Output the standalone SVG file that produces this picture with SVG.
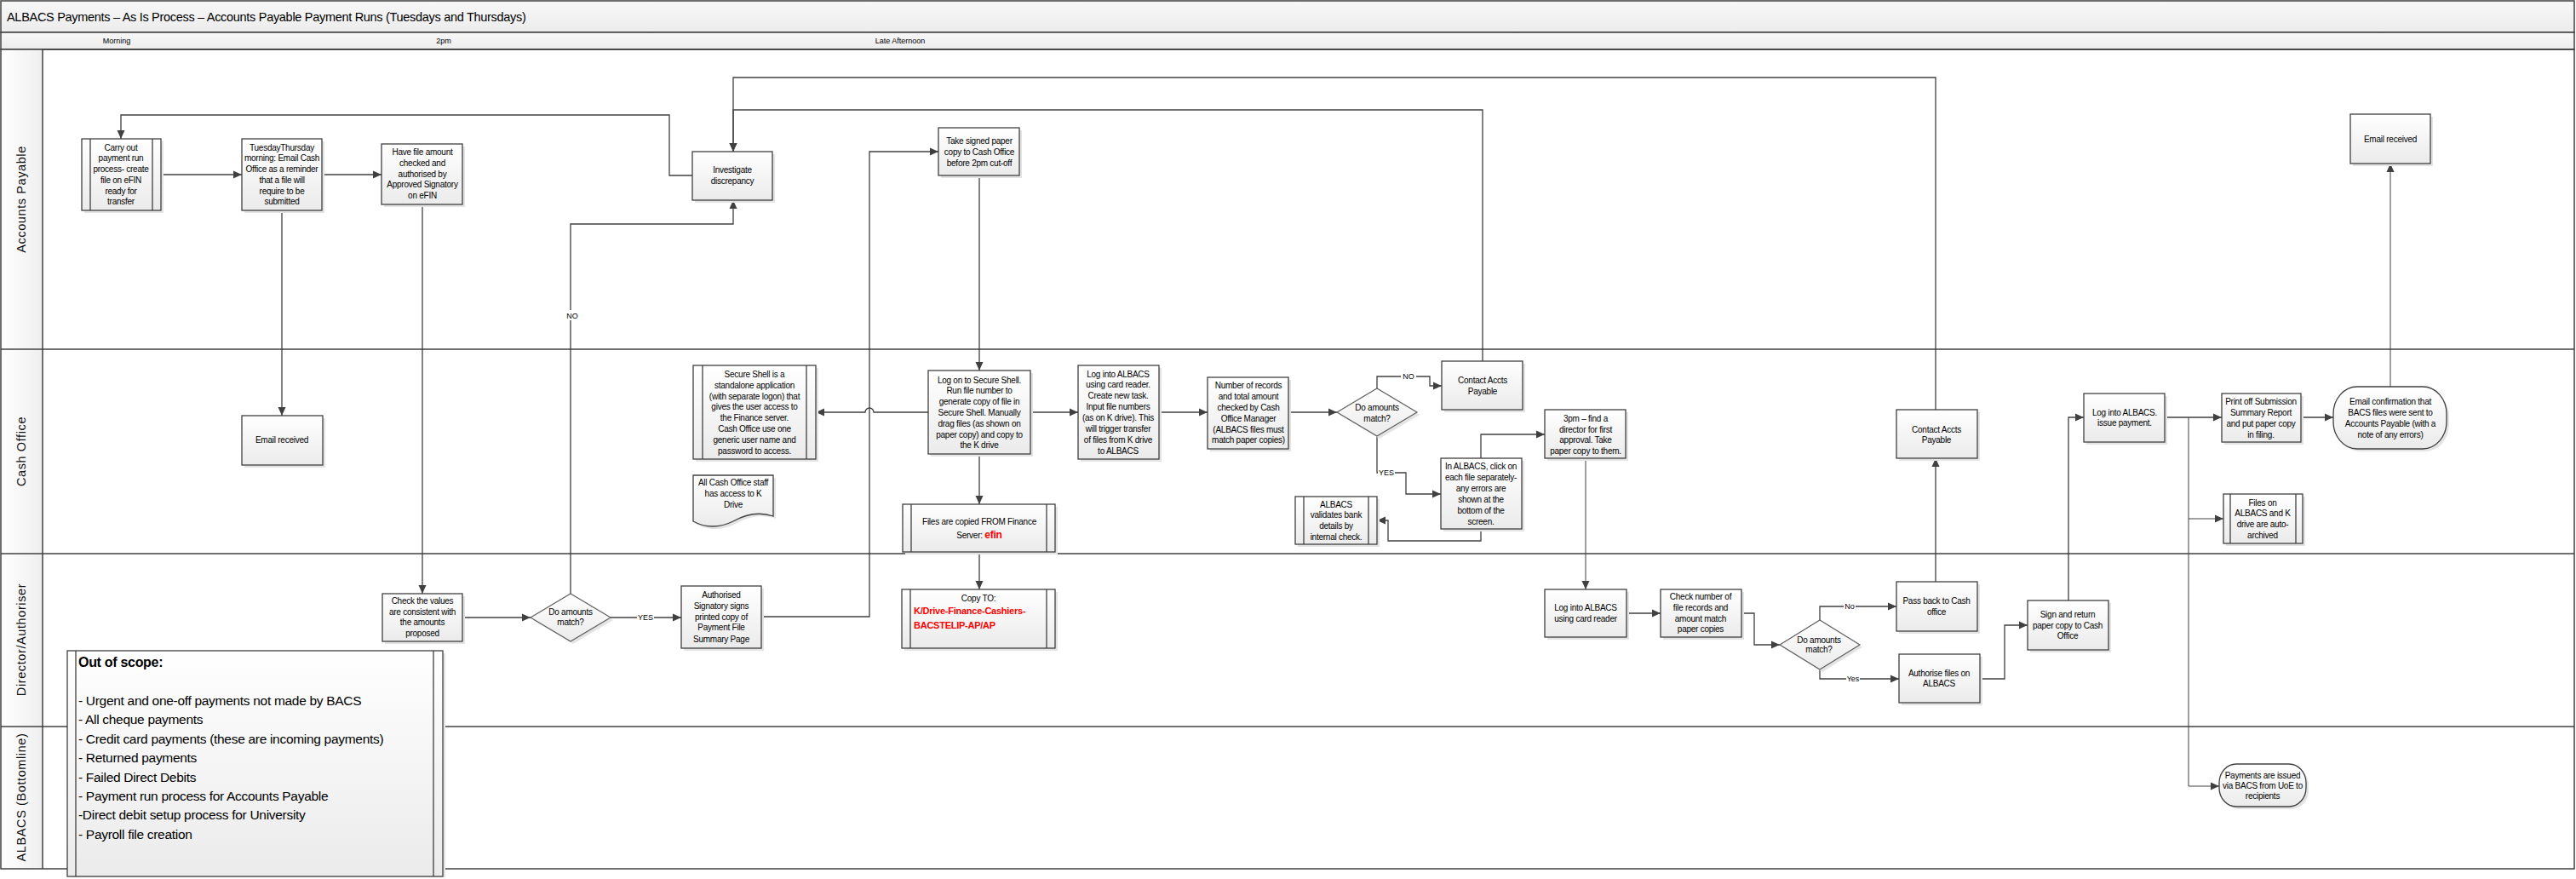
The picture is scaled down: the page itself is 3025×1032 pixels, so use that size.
<svg xmlns="http://www.w3.org/2000/svg" width="3025" height="1032" viewBox="0 0 3025 1032">
<defs>
<linearGradient id="gn" x1="0" y1="0" x2="0" y2="1"><stop offset="0" stop-color="#ffffff"/><stop offset="1" stop-color="#ebebeb"/></linearGradient>
<linearGradient id="gh" x1="0" y1="0" x2="1" y2="0"><stop offset="0" stop-color="#ffffff"/><stop offset="1" stop-color="#efefef"/></linearGradient>
<linearGradient id="gt" x1="0" y1="0" x2="0" y2="1"><stop offset="0" stop-color="#f8f8f8"/><stop offset="1" stop-color="#ececec"/></linearGradient>
<marker id="a" markerUnits="userSpaceOnUse" markerWidth="10" markerHeight="10" refX="10" refY="5" orient="auto"><path d="M0,0.5 L10,5 L0,9.5 z" fill="#404040"/></marker>
</defs>
<style>
.frame{fill:none;stroke:#404040;stroke-width:1.5}
.ln{stroke:#404040;stroke-width:1.5;fill:none}
.b{fill:url(#gn);stroke:#404040;stroke-width:1.3}
.sh{fill:#e4e4e4;stroke:none}
.il{stroke:#404040;stroke-width:1.3}
.dm{fill:url(#gn);stroke:#606060;stroke-width:1.2}
.t{font-family:'Liberation Sans',Arial,sans-serif;font-size:10px;letter-spacing:-0.25px;fill:#000;text-anchor:middle}
.lane{font-family:'Liberation Sans',Arial,sans-serif;font-size:14.5px;letter-spacing:0.6px;fill:#111;text-anchor:middle}
.c{fill:none;stroke:#404040;stroke-width:1.3;marker-end:url(#a)}
.lb{font-family:'Liberation Sans',Arial,sans-serif;font-size:9px;fill:#000;text-anchor:middle}
.red{fill:#ff0000;font-weight:bold}
.oos{font-family:'Liberation Sans',Arial,sans-serif;font-size:15.5px;letter-spacing:-0.3px;fill:#000}
</style>
<rect x="0" y="0" width="3025" height="1032" fill="#ffffff"/>
<g id="header">
<rect x="1" y="1" width="3022" height="37" fill="url(#gt)" stroke="#404040" stroke-width="1.5"/>
<text x="8" y="25" font-family="'Liberation Sans',Arial,sans-serif" font-size="14.5" letter-spacing="-0.3">ALBACS Payments – As Is Process – Accounts Payable Payment Runs (Tuesdays and Thursdays)</text>
<rect x="1" y="38" width="3022" height="20" fill="url(#gt)" stroke="#404040" stroke-width="1.5"/>
<text x="137" y="51" font-family="'Liberation Sans',Arial,sans-serif" font-size="9" text-anchor="middle">Morning</text>
<text x="521" y="51" font-family="'Liberation Sans',Arial,sans-serif" font-size="9" text-anchor="middle">2pm</text>
<text x="1057" y="51" font-family="'Liberation Sans',Arial,sans-serif" font-size="9" text-anchor="middle">Late Afternoon</text>
</g>
<g id="lanes">
<rect x="1" y="58" width="49" height="962" fill="url(#gh)"/>
<rect x="1" y="58" width="3022" height="962" class="frame"/>
<line x1="50" y1="58" x2="50" y2="1020" class="ln"/>
<line x1="1" y1="410" x2="3023" y2="410" class="ln"/>
<line x1="1" y1="650" x2="3023" y2="650" class="ln"/>
<line x1="1" y1="853" x2="3023" y2="853" class="ln"/>
<text class="lane" transform="translate(30,234) rotate(-90)">Accounts Payable</text>
<text class="lane" transform="translate(30,530) rotate(-90)">Cash Office</text>
<text class="lane" transform="translate(30,751) rotate(-90)">Director/Authoriser</text>
<text class="lane" transform="translate(30,936) rotate(-90)">ALBACS (Bottomline)</text>
</g>
<g id="connectors">
<path class="c" d="M813,206 H786 V135 H142 V163"/>
<path class="c" d="M189,205 H284"/>
<path class="c" d="M378,205 H448"/>
<path class="c" d="M331,247 V488"/>
<path class="c" d="M496,240 V697"/>
<path class="c" d="M543,725 H623"/>
<path class="c" d="M717,725 H800"/>
<path class="c" d="M670,697 V263 H861 V235"/>
<path class="c" d="M894,724 H1021 V178 H1102"/>
<path class="c" d="M1150,206 V435"/>
<path class="c" d="M1090,484 H1026 A5,5 0 0 0 1016,484 H958"/>
<path class="c" d="M1150,533 V592"/>
<path class="c" d="M1150,648 V692"/>
<path class="c" d="M1210,484 H1266"/>
<path class="c" d="M1361,484 H1418"/>
<path class="c" d="M1513,484 H1570"/>
<path class="c" d="M1617,456 V442 H1679 V453 H1693"/>
<path class="c" d="M1741,424 V129 H861 V178"/>
<path class="c" d="M2273,481 V91 H861 V178"/>
<path class="c" d="M1617,512 V555 H1651 V580 H1692"/>
<path class="c" d="M1739,621 V635 H1630 V611 H1617"/>
<path class="c" d="M1739,538 V510 H1814"/>
<path class="c" d="M1862,538 V692" style="stroke-width:1"/>
<path class="c" d="M1910,720 H1950"/>
<path class="c" d="M2045,720 H2060 V757 H2090"/>
<path class="c" d="M2137,728 V712 H2227"/>
<path class="c" d="M2137,786 V797 H2230"/>
<path class="c" d="M2273,683 V538"/>
<path class="c" d="M2325,797 H2354 V734 H2381"/>
<path class="c" d="M2429,705 V490 H2447"/>
<path class="c" d="M2542,490 H2609"/>
<path class="c" d="M2570,490 V609 H2611" style="stroke-width:1"/>
<path class="c" d="M2570,609 V923 H2606" style="stroke-width:1"/>
<path class="c" d="M2702,490 H2740"/>
<path class="c" d="M2807,454 V192" style="stroke-width:1"/>
<rect x="664" y="364" width="16" height="12" fill="#fff"/>
<text class="lb" x="672" y="374">NO</text>
<rect x="748" y="719" width="20" height="11" fill="#fff"/>
<text class="lb" x="758" y="728">YES</text>
<rect x="1645" y="436" width="18" height="11" fill="#fff"/>
<text class="lb" x="1654" y="445">NO</text>
<rect x="1618" y="549" width="20" height="11" fill="#fff"/>
<text class="lb" x="1628" y="558">YES</text>
<rect x="2165" y="706" width="14" height="11" fill="#fff"/>
<text class="lb" x="2172" y="715">No</text>
<rect x="2168" y="791" width="16" height="11" fill="#fff"/>
<text class="lb" x="2176" y="800">Yes</text>
</g>
<g id="n_carry"><rect class="sh" x="99" y="166" width="93" height="84"/><rect class="b" x="96" y="163" width="93" height="84"/><line class="il" x1="106" y1="163" x2="106" y2="247"/><line class="il" x1="179" y1="163" x2="179" y2="247"/>
<text class="t"><tspan x="142" y="176.5">Carry out</tspan><tspan x="142" y="189.3">payment run</tspan><tspan x="142" y="202">process- create</tspan><tspan x="142" y="214.8">file on eFIN</tspan><tspan x="142" y="227.6">ready for</tspan><tspan x="142" y="240.4">transfer</tspan></text></g>
<g id="n_tue"><rect class="sh" x="287" y="166" width="94" height="84"/><rect class="b" x="284" y="163" width="94" height="84"/>
<text class="t"><tspan x="331" y="176.5">TuesdayThursday</tspan><tspan x="331" y="189.3">morning: Email Cash</tspan><tspan x="331" y="202">Office as a reminder</tspan><tspan x="331" y="214.8">that a file will</tspan><tspan x="331" y="227.6">require to be</tspan><tspan x="331" y="240.4">submitted</tspan></text></g>
<g id="n_have"><rect class="sh" x="451" y="172" width="95" height="71"/><rect class="b" x="448" y="169" width="95" height="71"/>
<text class="t"><tspan x="496" y="182">Have file amount</tspan><tspan x="496" y="195">checked and</tspan><tspan x="496" y="208">authorised by</tspan><tspan x="496" y="220">Approved Signatory</tspan><tspan x="496" y="233">on eFIN</tspan></text></g>
<g id="n_inv"><rect class="sh" x="816" y="181" width="94" height="57"/><rect class="b" x="813" y="178" width="94" height="57"/>
<text class="t"><tspan x="860" y="203">Investigate</tspan><tspan x="860" y="216">discrepancy</tspan></text></g>
<g id="n_take"><rect class="sh" x="1105" y="153" width="95" height="56"/><rect class="b" x="1102" y="150" width="95" height="56"/>
<text class="t"><tspan x="1150" y="168.5">Take signed paper</tspan><tspan x="1150" y="181.5">copy to Cash Office</tspan><tspan x="1150" y="194.5">before 2pm cut-off</tspan></text></g>
<g id="n_emailap"><rect class="sh" x="2763" y="137" width="94" height="58"/><rect class="b" x="2760" y="134" width="94" height="58"/>
<text class="t"><tspan x="2807" y="166.5">Email received</tspan></text></g>
<g id="n_emailco"><rect class="sh" x="287" y="491" width="95" height="58"/><rect class="b" x="284" y="488" width="95" height="58"/>
<text class="t"><tspan x="331" y="520">Email received</tspan></text></g>
<g id="n_ss"><rect class="sh" x="817" y="432" width="144" height="110"/><rect class="b" x="814" y="429" width="144" height="110"/><line class="il" x1="825" y1="429" x2="825" y2="539"/><line class="il" x1="947" y1="429" x2="947" y2="539"/>
<text class="t"><tspan x="886" y="442.5">Secure Shell is a</tspan><tspan x="886" y="455.5">standalone application</tspan><tspan x="886" y="468.5">(with separate logon) that</tspan><tspan x="886" y="481.2">gives the user access to</tspan><tspan x="886" y="494.2">the Finance server.</tspan><tspan x="886" y="506.5">Cash Office use one</tspan><tspan x="886" y="519.5">generic user name and</tspan><tspan x="886" y="532.5">password to access.</tspan></text></g>
<g id="n_doc"><path d="M817,561 H911 V609 C893,603 878,607 864,615 C848,623 831,623 817,615 Z" class="sh"/><path d="M814,558 H908 V606 C890,600 875,604 861,612 C845,620 828,620 814,612 Z" class="b"/>
<text class="t"><tspan x="861" y="569.5">All Cash Office staff</tspan><tspan x="861" y="582.5">has access to K</tspan><tspan x="861" y="595.5">Drive</tspan></text></g>
<g id="n_logon"><rect class="sh" x="1093" y="438" width="120" height="98"/><rect class="b" x="1090" y="435" width="120" height="98"/>
<text class="t"><tspan x="1150" y="449.5">Log on to Secure Shell.</tspan><tspan x="1150" y="462.2">Run file number to</tspan><tspan x="1150" y="474.8">generate copy of file in</tspan><tspan x="1150" y="487.8">Secure Shell. Manually</tspan><tspan x="1150" y="500.8">drag files (as shown on</tspan><tspan x="1150" y="513.5">paper copy) and copy  to</tspan><tspan x="1150" y="526.2">the K drive</tspan></text></g>
<g id="n_files"><rect class="sh" x="1063" y="595" width="179" height="56"/><rect class="b" x="1060" y="592" width="179" height="56"/><line class="il" x1="1070" y1="592" x2="1070" y2="648"/><line class="il" x1="1229" y1="592" x2="1229" y2="648"/>
<text class="t"><tspan x="1150" y="615.5">Files are copied FROM Finance</tspan><tspan x="1150" y="632">Server: <tspan class="red" font-size="12">efin</tspan></tspan></text></g>
<g id="n_logalb"><rect class="sh" x="1269" y="432" width="95" height="110"/><rect class="b" x="1266" y="429" width="95" height="110"/>
<text class="t"><tspan x="1313" y="442.5">Log into ALBACS</tspan><tspan x="1313" y="455.2">using card reader.</tspan><tspan x="1313" y="468.2">Create new task.</tspan><tspan x="1313" y="481.2">Input file numbers</tspan><tspan x="1313" y="493.8">(as on K drive). This</tspan><tspan x="1313" y="506.5">will trigger transfer</tspan><tspan x="1313" y="519.5">of files from K drive</tspan><tspan x="1313" y="532.5">to ALBACS</tspan></text></g>
<g id="n_num"><rect class="sh" x="1421" y="446" width="95" height="84"/><rect class="b" x="1418" y="443" width="95" height="84"/>
<text class="t"><tspan x="1466" y="455.8">Number of records</tspan><tspan x="1466" y="468.8">and total amount</tspan><tspan x="1466" y="481.8">checked by Cash</tspan><tspan x="1466" y="494.5">Office Manager</tspan><tspan x="1466" y="507.5">(ALBACS files must</tspan><tspan x="1466" y="520.2">match paper copies)</tspan></text></g>
<g id="d1"><polygon points="1573,487 1620,459 1667,487 1620,515" class="sh"/><polygon points="1570,484 1617,456 1664,484 1617,512" class="dm"/>
<text class="t"><tspan x="1617" y="481.8">Do amounts</tspan><tspan x="1617" y="494.5">match?</tspan></text></g>
<g id="n_contact1"><rect class="sh" x="1696" y="427" width="95" height="57"/><rect class="b" x="1693" y="424" width="95" height="57"/>
<text class="t"><tspan x="1741" y="449.5">Contact Accts</tspan><tspan x="1741" y="462.8">Payable</tspan></text></g>
<g id="n_inalb"><rect class="sh" x="1695" y="541" width="95" height="83"/><rect class="b" x="1692" y="538" width="95" height="83"/>
<text class="t"><tspan x="1739" y="551.2">In ALBACS, click on</tspan><tspan x="1739" y="564.2">each file separately-</tspan><tspan x="1739" y="577.2">any errors are</tspan><tspan x="1739" y="589.8">shown at the</tspan><tspan x="1739" y="602.8">bottom of the</tspan><tspan x="1739" y="615.5">screen.</tspan></text></g>
<g id="n_valid"><rect class="sh" x="1524" y="586" width="96" height="56"/><rect class="b" x="1521" y="583" width="96" height="56"/><line class="il" x1="1531" y1="583" x2="1531" y2="639"/><line class="il" x1="1607" y1="583" x2="1607" y2="639"/>
<text class="t"><tspan x="1569" y="595.5">ALBACS</tspan><tspan x="1569" y="608.2">validates bank</tspan><tspan x="1569" y="620.8">details by</tspan><tspan x="1569" y="633.5">internal check.</tspan></text></g>
<g id="n_3pm"><rect class="sh" x="1817" y="484" width="95" height="57"/><rect class="b" x="1814" y="481" width="95" height="57"/>
<text class="t"><tspan x="1862" y="494.5">3pm – find a</tspan><tspan x="1862" y="507.5">director for first</tspan><tspan x="1862" y="520.2">approval. Take</tspan><tspan x="1862" y="532.8">paper copy to them.</tspan></text></g>
<g id="n_contact2"><rect class="sh" x="2230" y="484" width="95" height="57"/><rect class="b" x="2227" y="481" width="95" height="57"/>
<text class="t"><tspan x="2274" y="507.5">Contact Accts</tspan><tspan x="2274" y="520.2">Payable</tspan></text></g>
<g id="n_logiss"><rect class="sh" x="2450" y="465" width="95" height="57"/><rect class="b" x="2447" y="462" width="95" height="57"/>
<text class="t"><tspan x="2495" y="487.8">Log into ALBACS.</tspan><tspan x="2495" y="500.2">issue payment.</tspan></text></g>
<g id="n_print"><rect class="sh" x="2612" y="465" width="93" height="57"/><rect class="b" x="2609" y="462" width="93" height="57"/>
<text class="t"><tspan x="2655" y="474.5">Print off Submission</tspan><tspan x="2655" y="487.8">Summary Report</tspan><tspan x="2655" y="500.8">and put paper copy</tspan><tspan x="2655" y="514.2">in filing.</tspan></text></g>
<g id="n_emailconf"><rect class="sh" x="2743" y="457" width="133" height="73" rx="28" ry="32"/><rect class="b" x="2740" y="454" width="133" height="73" rx="28" ry="32"/>
<text class="t"><tspan x="2807" y="474.5">Email confirmation that</tspan><tspan x="2807" y="487.8">BACS files were sent to</tspan><tspan x="2807" y="500.8">Accounts Payable (with a</tspan><tspan x="2807" y="514.2">note of any errors)</tspan></text></g>
<g id="n_archive"><rect class="sh" x="2614" y="583" width="93" height="58"/><rect class="b" x="2611" y="580" width="93" height="58"/><line class="il" x1="2619" y1="580" x2="2619" y2="638"/><line class="il" x1="2696" y1="580" x2="2696" y2="638"/>
<text class="t"><tspan x="2657" y="593.5">Files on</tspan><tspan x="2657" y="606.2">ALBACS and K</tspan><tspan x="2657" y="619.2">drive are auto-</tspan><tspan x="2657" y="632.2">archived</tspan></text></g>
<g id="n_check"><rect class="sh" x="452" y="700" width="94" height="56"/><rect class="b" x="449" y="697" width="94" height="56"/>
<text class="t"><tspan x="496" y="708.5">Check the values</tspan><tspan x="496" y="721.5">are consistent with</tspan><tspan x="496" y="734.2">the amounts</tspan><tspan x="496" y="746.5">proposed</tspan></text></g>
<g id="d2"><polygon points="626,728 673,700 720,728 673,756" class="sh"/><polygon points="623,725 670,697 717,725 670,753" class="dm"/>
<text class="t"><tspan x="670" y="721.5">Do amounts</tspan><tspan x="670" y="734.2">match?</tspan></text></g>
<g id="n_auth"><rect class="sh" x="803" y="691" width="94" height="73"/><rect class="b" x="800" y="688" width="94" height="73"/>
<text class="t"><tspan x="847" y="702.2">Authorised</tspan><tspan x="847" y="714.5">Signatory signs</tspan><tspan x="847" y="727.5">printed copy of</tspan><tspan x="847" y="740.2">Payment File</tspan><tspan x="847" y="753.5">Summary Page</tspan></text></g>
<g id="n_copy"><rect class="sh" x="1062" y="695" width="180" height="69"/><rect class="b" x="1059" y="692" width="180" height="69"/><line class="il" x1="1069" y1="692" x2="1069" y2="761"/><line class="il" x1="1229" y1="692" x2="1229" y2="761"/>
<text class="t"><tspan x="1149" y="706">Copy TO:</tspan></text>
<text class="t red" style="text-anchor:start;font-size:11px"><tspan x="1073" y="721">K/Drive-Finance-Cashiers-</tspan><tspan x="1073" y="738">BACSTELIP-AP/AP</tspan></text></g>
<g id="n_logcard"><rect class="sh" x="1817" y="695" width="96" height="56"/><rect class="b" x="1814" y="692" width="96" height="56"/>
<text class="t"><tspan x="1862" y="717.2">Log into ALBACS</tspan><tspan x="1862" y="729.5">using card reader</tspan></text></g>
<g id="n_checknum"><rect class="sh" x="1953" y="695" width="95" height="56"/><rect class="b" x="1950" y="692" width="95" height="56"/>
<text class="t"><tspan x="1997" y="704.2">Check number of</tspan><tspan x="1997" y="717.2">file records and</tspan><tspan x="1997" y="729.5">amount match</tspan><tspan x="1997" y="742.2">paper copies</tspan></text></g>
<g id="d3"><polygon points="2093,760 2140,731 2187,760 2140,789" class="sh"/><polygon points="2090,757 2137,728 2184,757 2137,786" class="dm"/>
<text class="t"><tspan x="2136" y="754.5">Do amounts</tspan><tspan x="2136" y="766.2">match?</tspan></text></g>
<g id="n_pass"><rect class="sh" x="2230" y="686" width="95" height="58"/><rect class="b" x="2227" y="683" width="95" height="58"/>
<text class="t"><tspan x="2274" y="709.2">Pass back to Cash</tspan><tspan x="2274" y="721.5">office</tspan></text></g>
<g id="n_authfiles"><rect class="sh" x="2233" y="771" width="95" height="57"/><rect class="b" x="2230" y="768" width="95" height="57"/>
<text class="t"><tspan x="2277" y="793.5">Authorise files on</tspan><tspan x="2277" y="805.8">ALBACS</tspan></text></g>
<g id="n_sign"><rect class="sh" x="2384" y="708" width="95" height="58"/><rect class="b" x="2381" y="705" width="95" height="58"/>
<text class="t"><tspan x="2428" y="724.5">Sign and return</tspan><tspan x="2428" y="737.5">paper copy to Cash</tspan><tspan x="2428" y="749.5">Office</tspan></text></g>
<g id="n_payments"><rect class="sh" x="2609" y="900" width="102" height="50" rx="20" ry="22"/><rect class="b" x="2606" y="897" width="102" height="50" rx="20" ry="22"/>
<text class="t"><tspan x="2657" y="913.5">Payments are issued</tspan><tspan x="2657" y="926.2">via BACS from UoE to</tspan><tspan x="2657" y="938.2">recipients</tspan></text></g>
<g id="n_oos"><rect class="sh" x="82" y="767" width="441" height="263"/><rect class="b" x="79" y="764" width="441" height="265"/><line class="il" x1="89" y1="764" x2="89" y2="1029"/><line class="il" x1="509" y1="764" x2="509" y2="1029"/>
<text class="oos"><tspan x="92" y="783" font-weight="bold" font-size="16">Out of scope:</tspan><tspan x="92" y="828">- Urgent and one-off payments not made by BACS</tspan><tspan x="92" y="850">- All cheque payments</tspan><tspan x="92" y="873">- Credit card payments (these are incoming payments)</tspan><tspan x="92" y="895">- Returned payments</tspan><tspan x="92" y="918">- Failed Direct Debits</tspan><tspan x="92" y="940">- Payment run process for Accounts Payable</tspan><tspan x="92" y="962">-Direct debit setup process for University</tspan><tspan x="92" y="985">- Payroll file creation</tspan></text></g>
</svg>
